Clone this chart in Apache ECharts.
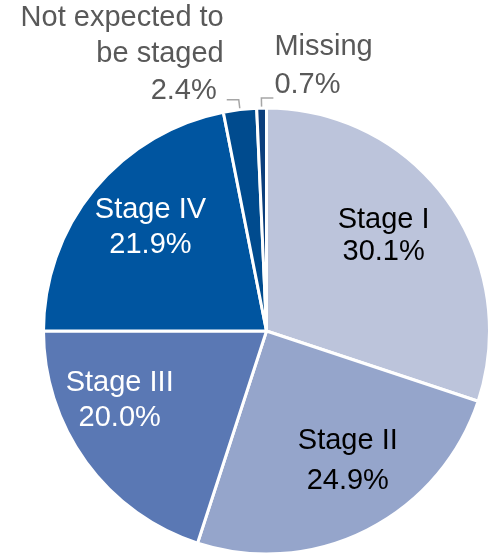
<!DOCTYPE html>
<html>
<head>
<meta charset="utf-8">
<script src="https://cdn.jsdelivr.net/npm/echarts@6/dist/echarts.min.js"></script>
<style>
  html, body { margin: 0; padding: 0; background: #ffffff; }
  #chart { width: 490px; height: 555px; }
</style>
</head>
<body>
<div id="chart"></div>
<script>
// Stage at diagnosis, share of cases (%)
const categories = ['Stage I', 'Stage II', 'Stage III', 'Stage IV', 'Not expected to\nbe staged', 'Missing'];
const shares = [30.1, 24.9, 20.0, 21.9, 2.4, 0.7];

// Slice fills and label colours
const sliceColors = ['#BCC4DB', '#95A5CB', '#5A78B4', '#0055A0', '#004B8E', '#0B3E7C'];
const innerTextColors = ['#000000', '#000000', '#ffffff', '#ffffff'];
// Small nudges and line spacing for the labels placed inside the big slices
const innerOffsets = [[-11, -3], [10, -11], [-19, -23], [6, -3]];
const innerLineHeights = [32, 40, 35, 35];

const FONT = '"Liberation Sans", Arial, Helvetica, sans-serif';
const FS = 29;
const CENTER = [266.5, 331];
const R = 223;

const chart = echarts.init(document.getElementById('chart'), null, { renderer: 'canvas' });

const fmtPct = v => v.toFixed(1) + '%';

// Main pie: slices plus the outside labels of the two thin slices
const mainData = categories.map((name, i) => {
  const outside = i >= 4;
  return {
    name: name,
    value: shares[i],
    itemStyle: { color: sliceColors[i] },
    label: { show: outside },
    labelLine: { show: outside }
  };
});

// Overlay ring only carries the inside labels (placed at ~0.7 R)
const labelData = categories.map((name, i) => {
  const inside = i < 4;
  return {
    name: name,
    value: shares[i],
    label: inside ? {
      show: true,
      color: innerTextColors[i],
      offset: innerOffsets[i],
      lineHeight: innerLineHeights[i]
    } : { show: false }
  };
});

const option = {
  animation: false,
  backgroundColor: '#ffffff',
  series: [
    {
      type: 'pie',
      center: CENTER,
      radius: [0, R],
      startAngle: 90,
      clockwise: true,
      avoidLabelOverlap: false,
      silent: true,
      data: mainData,
      itemStyle: { borderColor: '#ffffff', borderWidth: 3 },
      label: {
        position: 'outside',
        color: '#595959',
        fontFamily: FONT,
        fontSize: FS,
        distanceToLabelLine: 3,
        formatter: p => {
          const lines = p.name.split('\n').map(s => '{n|' + s + '}');
          const pad = p.dataIndex === 4 ? 'v' : 'w';
          return lines.join('\n') + '\n{' + pad + '|' + fmtPct(p.value) + '}';
        },
        rich: {
          n: { fontSize: FS, fontFamily: FONT, color: '#595959', lineHeight: 36 },
          v: { fontSize: FS, fontFamily: FONT, color: '#595959', lineHeight: 38, padding: [0, 7, 0, 0] },
          w: { fontSize: FS, fontFamily: FONT, color: '#595959', lineHeight: 40 }
        }
      },
      labelLine: {
        length: 10,
        length2: 12,
        smooth: false,
        lineStyle: { color: '#A6A6A6', width: 1.5 }
      },
      labelLayout: function (p) {
        const pts = p.labelLinePoints;
        if (!pts) return {};
        const mid = p.labelRect.y + p.labelRect.height / 2;
        if (p.dataIndex === 4) {
          // Lift the block so the leader meets its last line
          return { y: mid - 44, labelLinePoints: pts };
        }
        if (p.dataIndex === 5) {
          // Turn the "Missing" leader to the right-hand side
          const p0 = pts[0], p1 = pts[1], p2 = pts[2];
          const run = Math.abs(p1[0] - p2[0]);
          const q2 = [p1[0] + run, p2[1]];
          return {
            x: q2[0] + 1,
            y: mid - 30,
            align: 'left',
            labelLinePoints: [p0, p1, q2]
          };
        }
        return {};
      }
    },
    {
      type: 'pie',
      center: CENTER,
      radius: [87, R],
      startAngle: 90,
      clockwise: true,
      avoidLabelOverlap: false,
      silent: true,
      z: 5,
      data: labelData,
      itemStyle: { color: 'rgba(0,0,0,0)', borderWidth: 0 },
      label: {
        position: 'inside',
        fontFamily: FONT,
        fontSize: FS,
        formatter: p => p.name + '\n' + fmtPct(p.value)
      },
      labelLine: { show: false }
    }
  ]
};

chart.setOption(option);
</script>
</body>
</html>
